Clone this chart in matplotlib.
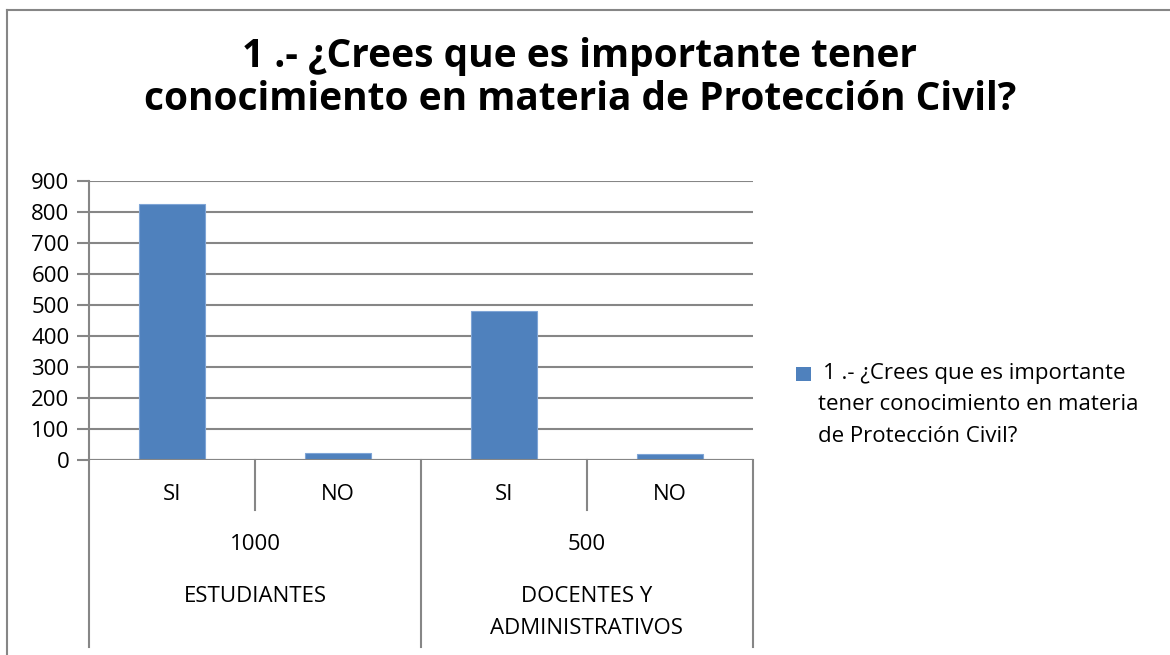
import matplotlib
matplotlib.use("Agg")
import matplotlib.pyplot as plt
from matplotlib.lines import Line2D
from matplotlib.patches import Rectangle

plt.rcParams['font.family'] = ['Open Sans', 'DejaVu Sans']

title_lines = ["1 .- ¿Crees que es importante tener", "conocimiento en materia de Protección Civil?"]
answers = ["SI", "NO", "SI", "NO"]
totals = ["1000", "500"]
groups = [["ESTUDIANTES"], ["DOCENTES Y", "ADMINISTRATIVOS"]]
values = [825, 22, 480, 20]
legend_lines = ["1 .- ¿Crees que es importante", "tener conocimiento en materia", "de Protección Civil?"]
yticks = [0, 100, 200, 300, 400, 500, 600, 700, 800, 900]

W, H = 1170, 655
fig = plt.figure(figsize=(W / 100, H / 100), dpi=100)

def fx(px):
    return px / W

def fy(py):
    return 1 - py / H

FS = 16
ax_left, ax_right, ax_top, ax_bot = 89, 753, 181, 460
ax = fig.add_axes([fx(ax_left), fy(ax_bot), fx(ax_right - ax_left), (ax_bot - ax_top) / H])

bar_color = "#4F81BD"
grid_color = "#868686"
x = list(range(len(values)))
ax.bar(x, values, width=0.4, color=bar_color, edgecolor="#7FA5D6", linewidth=0.8, zorder=3)
ax.set_xlim(-0.5, len(values) - 0.5)
ax.set_ylim(0, 900)
ax.set_yticks(yticks)
ax.set_yticklabels([str(v) for v in yticks], fontsize=FS)
ax.yaxis.grid(True, color=grid_color, linewidth=1.5, zorder=0)
ax.set_xticks([])
for s in ["top", "right", "bottom"]:
    ax.spines[s].set_visible(False)
ax.spines["left"].set_color(grid_color)
ax.spines["left"].set_linewidth(1.5)
ax.tick_params(axis="y", length=9, width=1.5, color=grid_color, pad=5)
ax.axhline(0, color=grid_color, linewidth=1.5, zorder=4)

# hierarchical category axis
axh = ax_bot - ax_top
def ay(py):
    return (ax_bot - py) / axh

tr = ax.get_xaxis_transform()
for xd in [0.5, 2.5]:
    ax.add_line(Line2D([xd, xd], [0, ay(510)], transform=tr, color=grid_color, lw=1.5, clip_on=False))
for xd in [-0.5, 1.5, 3.5]:
    ax.add_line(Line2D([xd, xd], [0, ay(647)], transform=tr, color=grid_color, lw=1.5, clip_on=False))

for xi, lab in zip(x, answers):
    ax.text(xi, ay(494), lab, transform=tr, ha="center", va="center", fontsize=FS)
for gi, (tot, grp) in enumerate(zip(totals, groups)):
    cx = gi * 2 + 0.5
    ax.text(cx, ay(545), tot, transform=tr, ha="center", va="center", fontsize=FS)
    for li, line in enumerate(grp):
        ax.text(cx, ay(596 + 33 * li), line, transform=tr, ha="center", va="center", fontsize=FS)

# title
for li, line in enumerate(title_lines):
    fig.text(fx(580), fy(56 + 44 * li), line, ha="center", va="center", fontsize=28,
             fontweight="bold")

# legend
fig.patches.append(Rectangle((fx(796), fy(381)), fx(15), 14 / H, transform=fig.transFigure,
                             facecolor=bar_color, edgecolor="none"))
for li, line in enumerate(legend_lines):
    fig.text(fx(823 if li == 0 else 818), fy(373 + 32 * li), line, ha="left", va="center",
             fontsize=FS)

# outer border
fig.add_artist(Line2D([fx(7), fx(1170)], [fy(10), fy(10)], transform=fig.transFigure,
                      color=grid_color, lw=1.5))
fig.add_artist(Line2D([fx(7), fx(7)], [fy(10), fy(655)], transform=fig.transFigure,
                      color=grid_color, lw=1.5))

fig.savefig("out.png", dpi=100, facecolor="white")
